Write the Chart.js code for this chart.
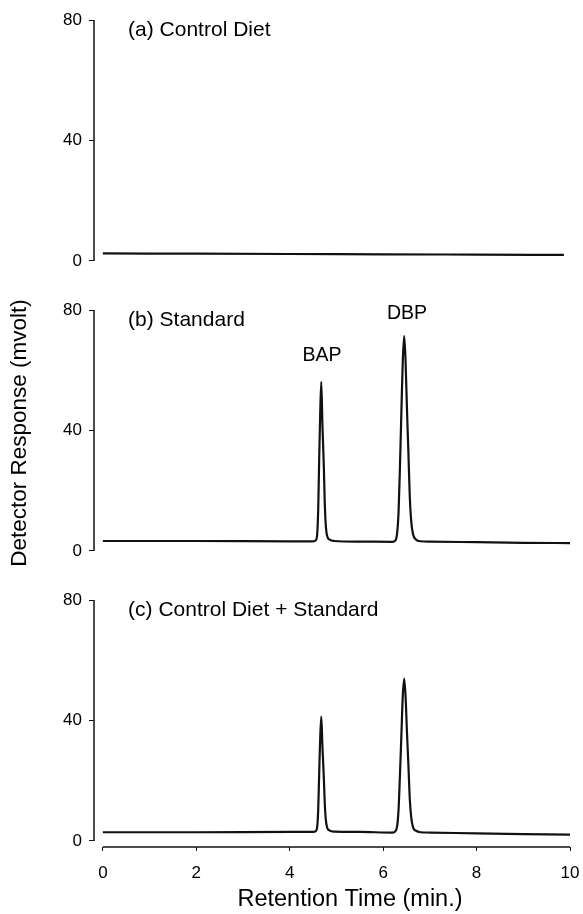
<!DOCTYPE html>
<html>
<head>
<meta charset="utf-8">
<script src="https://cdn.jsdelivr.net/npm/chart.js@4.4.1/dist/chart.umd.min.js"></script>
<style>
  body { margin: 0; background: #fff; }
  canvas { display: block; }
</style>
</head>
<body>
<canvas id="chart" width="583" height="914"></canvas>
<script>
// (a) control diet: flat baseline
const timeA = [0, 2, 4, 6, 8, 9.87];
const valueA = [2.5, 2.4, 2.3, 2.2, 2.1, 2.0];

// (b) standard
const timeB = [0, 2, 4, 4.5, 4.56, 4.59, 4.61, 4.63, 4.65, 4.675, 4.7, 4.73, 4.75, 4.77, 4.8, 4.85, 4.95, 5.5, 6.2,
  6.26, 6.3, 6.33, 6.36, 6.39, 6.42, 6.45, 6.48, 6.51, 6.54, 6.57, 6.6, 6.64, 6.7, 6.8, 7, 8, 9, 10];
const valueB = [3.3, 3.3, 3.2, 3.2, 3.6, 6, 14, 30, 44, 56.1, 42, 28, 16, 9, 5, 3.8, 3.3, 3.1, 3.0,
  3.4, 6, 13, 28, 46, 63, 71.4, 63, 47, 33, 18, 10, 5.5, 3.8, 3.2, 3.1, 2.9, 2.7, 2.6];

// (c) control diet + standard
const timeC = [0, 2, 4, 4.5, 4.56, 4.59, 4.61, 4.63, 4.65, 4.675, 4.7, 4.73, 4.75, 4.77, 4.8, 4.85, 4.95, 5.5, 6.2,
  6.26, 6.3, 6.33, 6.36, 6.39, 6.42, 6.45, 6.48, 6.51, 6.54, 6.57, 6.6, 6.64, 6.7, 6.8, 7, 8, 9, 10];
const valueC = [2.9, 2.9, 3.0, 3.0, 3.3, 5, 10.5, 22, 33, 41.3, 31.5, 21, 12.5, 7.5, 4.5, 3.5, 3.1, 3.0, 2.8,
  3.2, 5, 10.5, 22, 35, 48, 53.9, 48, 36, 25.5, 14, 8, 4.5, 3.4, 2.9, 2.8, 2.5, 2.3, 2.1];

const xTicks = [0, 2, 4, 6, 8, 10];
const yTicks = [0, 40, 80];
const panelLabels = ['(a) Control Diet', '(b) Standard', '(c) Control Diet + Standard'];
const peakNames = ['BAP', 'DBP'];
const peakLabelX = [4.69, 6.51];
const peakLabelY = [64.7, 78.7];

const toPoints = (xs, ys) => xs.map((x, i) => ({ x: x, y: ys[i] }));

const FONT = "'Liberation Sans', Arial, sans-serif";
const INK = '#111';

function yScale(lo, weight) {
  return {
    type: 'linear',
    position: 'left',
    stack: 'panels',
    stackWeight: weight,
    min: lo,
    max: 80,
    afterBuildTicks: (s) => { s.ticks = yTicks.map(v => ({ value: v })); },
    afterFit: (s) => { s.width = 94; },
    border: { display: false },
    grid: { drawOnChartArea: false, drawTicks: true, tickLength: 5, color: INK, lineWidth: 1 },
    ticks: { color: '#000', font: { family: FONT, size: 17 }, padding: 7 }
  };
}

const extras = {
  id: 'extras',
  afterDraw(chart) {
    const { ctx, chartArea, scales } = chart;
    const x = scales.x;
    const ids = ['yA', 'yB', 'yC'];
    ctx.save();
    ctx.strokeStyle = INK;
    ctx.lineWidth = 1.5;
    ids.forEach(id => {
      const s = scales[id];
      ctx.beginPath();
      ctx.moveTo(chartArea.left, s.getPixelForValue(80));
      ctx.lineTo(chartArea.left, s.getPixelForValue(0));
      ctx.stroke();
    });
    ctx.beginPath();
    ctx.moveTo(x.getPixelForValue(0), chartArea.bottom);
    ctx.lineTo(x.getPixelForValue(10), chartArea.bottom);
    ctx.stroke();

    ctx.fillStyle = '#000';
    ctx.textBaseline = 'middle';
    ctx.font = '21px ' + FONT;
    ctx.textAlign = 'left';
    ids.forEach((id, i) => {
      ctx.fillText(panelLabels[i], x.getPixelForValue(0.54), scales[id].getPixelForValue(76.5));
    });
    ctx.font = '19.5px ' + FONT;
    ctx.textAlign = 'center';
    peakNames.forEach((name, i) => {
      ctx.fillText(name, x.getPixelForValue(peakLabelX[i]), scales.yB.getPixelForValue(peakLabelY[i]));
    });

    // x-axis title, centred under the drawn axis as in the original
    ctx.font = '23.5px ' + FONT;
    ctx.fillText('Retention Time (min.)', 350, 900);

    // shared y-axis title
    ctx.translate(20, 433);
    ctx.rotate(-Math.PI / 2);
    ctx.font = '22.5px ' + FONT;
    ctx.fillText('Detector Response (mvolt)', 0, 0);
    ctx.restore();
  }
};

const lineStyle = {
  borderColor: INK,
  borderWidth: 2.2,
  pointRadius: 0,
  fill: false,
  cubicInterpolationMode: 'monotone'
};

new Chart(document.getElementById('chart'), {
  type: 'line',
  data: {
    datasets: [
      Object.assign({ label: 'a', data: toPoints(timeA, valueA), yAxisID: 'yA' }, lineStyle),
      Object.assign({ label: 'b', data: toPoints(timeB, valueB), yAxisID: 'yB' }, lineStyle),
      Object.assign({ label: 'c', data: toPoints(timeC, valueC), yAxisID: 'yC' }, lineStyle)
    ]
  },
  options: {
    responsive: false,
    animation: false,
    layout: { padding: { top: 20, right: 13, left: 0, bottom: 0 } },
    plugins: { legend: { display: false }, tooltip: { enabled: false } },
    scales: {
      x: {
        type: 'linear',
        min: -0.19,
        max: 10,
        afterBuildTicks: (s) => { s.ticks = xTicks.map(v => ({ value: v })); },
        afterFit: (s) => { s.height = 67; s.paddingLeft = 0; s.paddingRight = 0; },
        border: { display: false },
        grid: { drawOnChartArea: false, drawTicks: true, tickLength: 4, color: INK, lineWidth: 1 },
        ticks: { color: '#000', font: { family: FONT, size: 17 }, padding: 12, maxRotation: 0 }
      },
      // stacked panels: last defined is placed at the top
      yC: yScale(-2.0, 247),
      yB: yScale(-16.3, 290),
      yA: yScale(-16.3, 290)
    }
  },
  plugins: [extras]
});
</script>
</body>
</html>
